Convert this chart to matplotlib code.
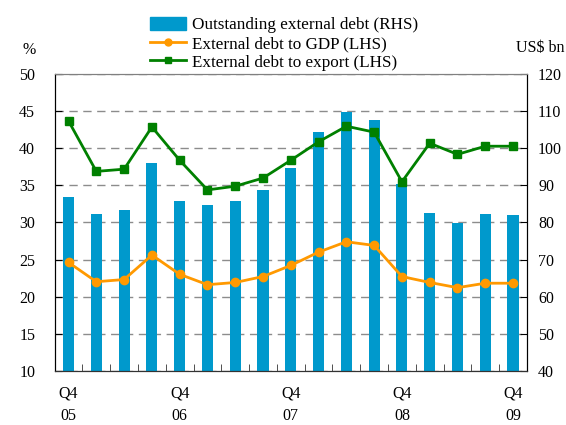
import matplotlib
matplotlib.use("Agg")
import matplotlib.pyplot as plt
import matplotlib.patches as mpatches
import matplotlib.lines as mlines
import numpy as np

plt.rcParams['font.family'] = ['Liberation Serif', 'DejaVu Serif']

quarters = ["Q4 05", "Q1 06", "Q2 06", "Q3 06", "Q4 06", "Q1 07", "Q2 07", "Q3 07", "Q4 07",
            "Q1 08", "Q2 08", "Q3 08", "Q4 08", "Q1 09", "Q2 09", "Q3 09", "Q4 09"]
debt_usd_bn = [86.9, 82.3, 83.4, 96.0, 85.8, 84.7, 85.8, 88.8, 94.7,
               104.4, 109.8, 107.6, 90.4, 82.6, 79.9, 82.3, 82.0]
debt_to_gdp = [24.6, 22.0, 22.3, 25.6, 23.0, 21.6, 21.9, 22.7, 24.2,
               26.0, 27.4, 26.9, 22.7, 21.9, 21.2, 21.8, 21.8]
debt_to_export = [43.7, 36.9, 37.2, 42.9, 38.4, 34.4, 34.9, 36.0, 38.4,
                  40.9, 43.0, 42.2, 35.5, 40.7, 39.2, 40.3, 40.3]
xtick_idx = [0, 4, 8, 12, 16]
xtick_labels = ["Q4\n05", "Q4\n06", "Q4\n07", "Q4\n08", "Q4\n09"]

bar_color = "#0099CC"
gdp_color = "#FF9900"
exp_color = "#008000"
fs = 11.5

fig = plt.figure(figsize=(5.66, 4.25), dpi=100)
ax = fig.add_axes([0.0966, 0.128, 0.8344, 0.697])
ax2 = ax.twinx()
ax.set_zorder(ax2.get_zorder() + 1)
ax.patch.set_visible(False)

x = np.arange(len(quarters))
ax2.bar(x, debt_usd_bn, width=0.4, color=bar_color, zorder=2)
ax2.set_ylim(40, 120)
ax2.set_yticks(np.arange(40, 121, 10))
ax2.yaxis.grid(True, linestyle=(0, (6, 4)), color="#8c8c8c", linewidth=1.0, zorder=0)
ax2.set_axisbelow(True)

ax.plot(x, debt_to_gdp, color=gdp_color, marker="o", markersize=6, linewidth=2)
ax.plot(x, debt_to_export, color=exp_color, marker="s", markersize=6, linewidth=2)
ax.set_ylim(10, 50)
ax.set_yticks(np.arange(10, 51, 5))
ax.set_xlim(-0.5, len(quarters) - 0.5)

ax.set_xticks(xtick_idx)
ax.set_xticklabels(xtick_labels, fontsize=fs, linespacing=1.55)
ax.set_xticks(np.arange(0.5, len(quarters) - 0.5, 1), minor=True)
ax.tick_params(axis="x", which="major", length=0, pad=11)
ax.tick_params(axis="x", which="minor", direction="in", length=5, color="#333333")
ax.tick_params(axis="y", direction="in", length=5, labelsize=fs, pad=14)
ax2.tick_params(axis="y", direction="in", length=5, labelsize=fs, pad=8)
ax2.tick_params(axis="x", length=0)

for a in (ax, ax2):
    a.spines["top"].set_color("#808080")
    a.spines["bottom"].set_color("#333333")
    a.spines["left"].set_color("black")
    a.spines["right"].set_color("black")

fig.text(0.052, 0.882, "%", fontsize=fs, ha="center", va="center")
fig.text(0.954, 0.888, "US$ bn", fontsize=fs, ha="center", va="center")

handles = [
    mpatches.Patch(color=bar_color),
    mlines.Line2D([], [], color=gdp_color, marker="o", markersize=5, linewidth=2),
    mlines.Line2D([], [], color=exp_color, marker="s", markersize=5, linewidth=2),
]
labels = ["Outstanding external debt (RHS)", "External debt to GDP (LHS)",
          "External debt to export (LHS)"]
fig.legend(handles, labels, loc="upper left", bbox_to_anchor=(0.265, 0.960),
           frameon=False, fontsize=12.3, handlelength=2.1, handleheight=0.8,
           handletextpad=0.35, labelspacing=0.12, borderpad=0.0, borderaxespad=0.0)

fig.savefig("out.png", dpi=100)
